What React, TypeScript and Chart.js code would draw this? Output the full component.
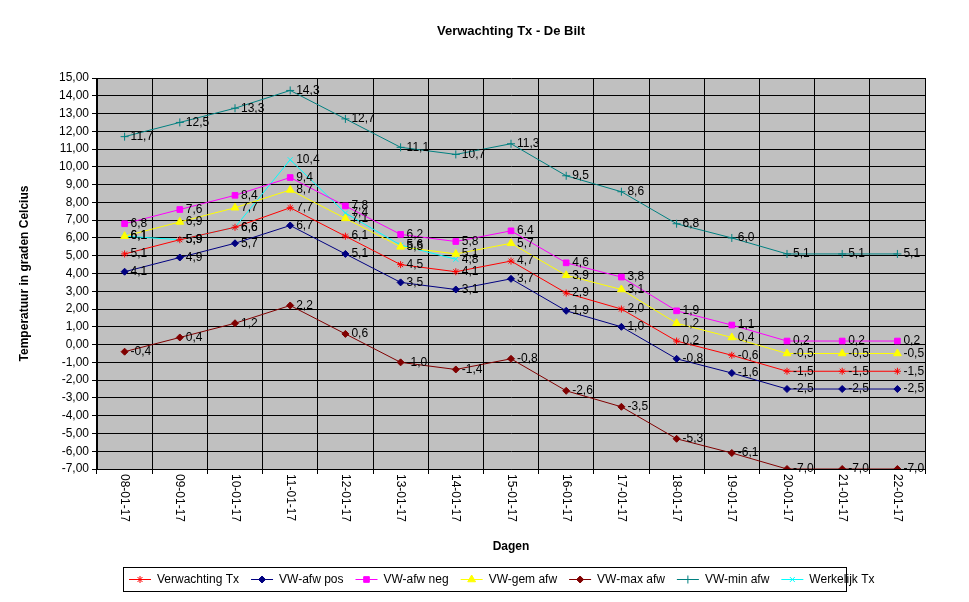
import React, { useEffect, useRef } from "react";
import { Chart, registerables } from "chart.js";
import { drawPoint } from "chart.js/helpers";
Chart.register(...registerables);

const categories = ["08-01-17","09-01-17","10-01-17","11-01-17","12-01-17","13-01-17","14-01-17","15-01-17","16-01-17","17-01-17","18-01-17","19-01-17","20-01-17","21-01-17","22-01-17"];
const verwachting = [5.1,5.9,6.6,7.7,6.1,4.5,4.1,4.7,2.9,2.0,0.2,-0.6,-1.5,-1.5,-1.5];
const afwPos = [4.1,4.9,5.7,6.7,5.1,3.5,3.1,3.7,1.9,1.0,-0.8,-1.6,-2.5,-2.5,-2.5];
const afwNeg = [6.8,7.6,8.4,9.4,7.8,6.2,5.8,6.4,4.6,3.8,1.9,1.1,0.2,0.2,0.2];
const gemAfw = [6.1,6.9,7.7,8.7,7.1,5.5,5.1,5.7,3.9,3.1,1.2,0.4,-0.5,-0.5,-0.5];
const maxAfw = [-0.4,0.4,1.2,2.2,0.6,-1.0,-1.4,-0.8,-2.6,-3.5,-5.3,-6.1,-7.0,-7.0,-7.0];
const minAfw = [11.7,12.5,13.3,14.3,12.7,11.1,10.7,11.3,9.5,8.6,6.8,6.0,5.1,5.1,5.1];
const werkelijk = [6.1,5.9,6.6,10.4,7.4,5.6,4.8,null,null,null,null,null,null,null,null];

const FONT = "'Liberation Sans', Arial, sans-serif";
const fmt = (v: number) => v.toFixed(1).replace(".", ",");

const series = [
  { label: "Verwachting Tx", data: verwachting, color: "#FF0000", ps: "star", r: 3.5 },
  { label: "VW-afw pos", data: afwPos, color: "#000080", ps: "rectRot", r: 3.5 },
  { label: "VW-afw neg", data: afwNeg, color: "#FF00FF", ps: "rect", r: 4 },
  { label: "VW-gem afw", data: gemAfw, color: "#FFFF00", ps: "triangle", r: 4.5 },
  { label: "VW-max afw", data: maxAfw, color: "#800000", ps: "rectRot", r: 3.5 },
  { label: "VW-min afw", data: minAfw, color: "#008080", ps: "cross", r: 4 },
  { label: "Werkelijk Tx", data: werkelijk, color: "#00FFFF", ps: "crossRot", r: 3.5 },
];

function drawMarker(ctx: CanvasRenderingContext2D, ps: string, color: string, x: number, y: number, r: number) {
  ctx.save();
  ctx.fillStyle = color;
  ctx.strokeStyle = color;
  ctx.lineWidth = 1;
  drawPoint(ctx, { pointStyle: ps as any, radius: r, borderWidth: 1, rotation: 0 }, x, y);
  ctx.restore();
}

const deco = {
  id: "deco",
  beforeDraw(chart: any) {
    const { ctx, chartArea: a } = chart;
    ctx.save();
    ctx.fillStyle = "#FFFFFF";
    ctx.fillRect(0, 0, chart.width, chart.height);
    ctx.fillStyle = "#C0C0C0";
    ctx.fillRect(a.left, a.top, a.right - a.left, a.bottom - a.top);
    ctx.restore();
  },
  afterDatasetsDraw(chart: any) {
    const { ctx } = chart;
    ctx.save();
    ctx.font = `12px ${FONT}`;
    ctx.fillStyle = "#000";
    ctx.textAlign = "left";
    ctx.textBaseline = "middle";
    chart.data.datasets.forEach((ds: any, i: number) => {
      chart.getDatasetMeta(i).data.forEach((p: any, j: number) => {
        const v = ds.data[j];
        if (v === null || v === undefined) return;
        ctx.fillText(fmt(v), p.x + 6, p.y);
      });
    });
    ctx.restore();
  },
  afterDraw(chart: any) {
    const { ctx, chartArea: a } = chart;
    const xs = chart.scales.x;
    ctx.save();
    ctx.fillStyle = "#000";
    ctx.font = `bold 13px ${FONT}`;
    ctx.textAlign = "center";
    ctx.textBaseline = "middle";
    ctx.fillText("Verwachting Tx - De Bilt", (a.left + a.right) / 2, 31);
    ctx.font = `bold 12px ${FONT}`;
    ctx.fillText("Dagen", (a.left + a.right) / 2, 547);
    ctx.save();
    ctx.translate(25, (a.top + a.bottom) / 2);
    ctx.rotate(-Math.PI / 2);
    ctx.fillText("Temperatuur in graden Celcius", 0, 0);
    ctx.restore();
    ctx.font = `12px ${FONT}`;
    categories.forEach((c, i) => {
      const x = xs.getPixelForValue(i);
      ctx.save();
      ctx.translate(x, a.bottom + 5);
      ctx.rotate(Math.PI / 2);
      ctx.textAlign = "left";
      ctx.fillText(c, 0, 0);
      ctx.restore();
    });
    const L = 123, T = 567, R = 846, B = 591;
    ctx.fillStyle = "#FFF";
    ctx.fillRect(L, T, R - L, B - T);
    ctx.strokeStyle = "#000";
    ctx.lineWidth = 1;
    ctx.strokeRect(L + 0.5, T + 0.5, R - L, B - T);
    ctx.font = `12px ${FONT}`;
    ctx.textAlign = "left";
    let x = L + 6;
    const cy = (T + B) / 2 + 0.5;
    series.forEach((s) => {
      ctx.strokeStyle = s.color;
      ctx.beginPath();
      ctx.moveTo(x, cy);
      ctx.lineTo(x + 22, cy);
      ctx.stroke();
      drawMarker(ctx, s.ps, s.color, x + 11, cy, s.r);
      ctx.fillStyle = "#000";
      ctx.fillText(s.label, x + 28, cy);
      x += 28 + ctx.measureText(s.label).width + 12;
    });
    ctx.restore();
  },
};

export default function App() {
  const ref = useRef<HTMLCanvasElement>(null);
  useEffect(() => {
    const chart = new Chart(ref.current!, {
      type: "line",
      data: {
        labels: categories,
        datasets: series.map((s) => ({
          label: s.label,
          data: s.data,
          borderColor: s.color,
          backgroundColor: s.color,
          pointStyle: s.ps as any,
          pointRadius: s.r,
          pointBorderWidth: 1,
          borderWidth: 1,
          tension: 0,
          spanGaps: false,
        })),
      },
      options: {
        animation: false,
        responsive: false,
        devicePixelRatio: 1,
        layout: { padding: { left: 0, right: 44, top: 78, bottom: 128 } },
        plugins: { legend: { display: false }, title: { display: false }, tooltip: { enabled: false } },
        scales: {
          x: {
            offset: true,
            grid: { offset: true, color: "#000", tickLength: 5, drawTicks: true },
            border: { color: "#000" },
            ticks: { display: false },
          },
          y: {
            min: -7,
            max: 15,
            afterFit: (s: any) => { s.width = 97; },
            ticks: {
              stepSize: 1,
              color: "#000",
              padding: 3,
              font: { family: FONT, size: 12 },
              callback: (v: any) => Number(v).toFixed(2).replace(".", ","),
            },
            grid: { color: "#000", tickLength: 5 },
            border: { color: "#000" },
          },
        },
      },
      plugins: [deco],
    });
    return () => chart.destroy();
  }, []);
  return (
    <div style={{ position: "fixed", left: 0, top: 0, width: 969, height: 602 }}>
      <canvas ref={ref} width={969} height={602} style={{ width: 969, height: 602 }} />
    </div>
  );
}
